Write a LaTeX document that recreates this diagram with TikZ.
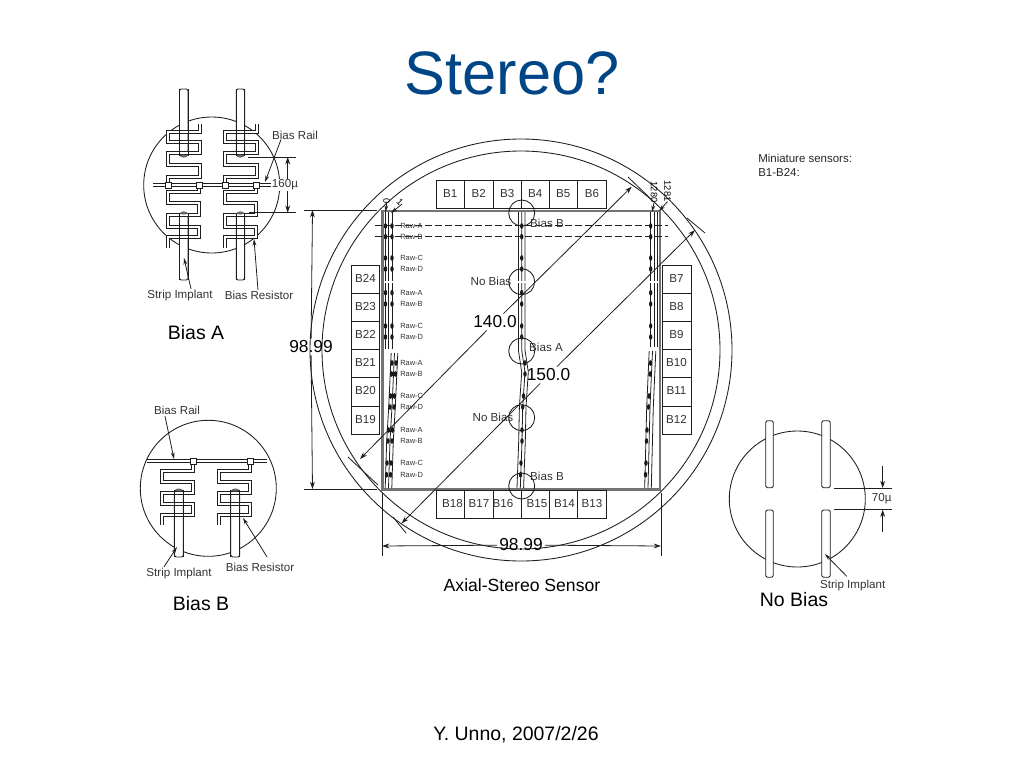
\documentclass[tikz,border=0pt]{standalone}
\usepackage{fontspec}
\setmainfont{Liberation Sans}
\usetikzlibrary{arrows.meta}
\definecolor{titleblue}{RGB}{0,69,134}
\definecolor{ink}{RGB}{30,30,30}
\tikzset{
  thin line/.style={draw=ink,line width=.6pt},
  resouter/.style={draw=ink,line width=3pt,line join=miter},
  resinner/.style={draw=white,line width=1.5pt,line join=miter},
  implant/.style={draw=ink,line width=.65pt,rounded corners=1.2pt},
  contact/.style={draw=ink,fill=white,line width=.65pt},
  tiny/.style={font=\fontsize{8.7pt}{10pt}\selectfont,text=black!80,inner sep=0pt},
  rowlab/.style={font=\fontsize{5.6pt}{6pt}\selectfont,text=black!80,inner sep=0pt,anchor=west},
  big/.style={font=\fontsize{14.6pt}{16pt}\selectfont,inner sep=0pt},
  dimnum/.style={font=\fontsize{13pt}{15pt}\selectfont,inner sep=1.5pt},
  dimarrow/.style={thin line,-{Stealth[length=5.5pt,width=3.6pt]}},
  leader/.style={thin line,-{Stealth[length=5pt,width=2.8pt]}},
  bcell/.style={draw=ink,line width=.7pt},
  bundle/.style={draw=ink,line width=.6pt},
  detail/.style={draw=ink,line width=.65pt},
}
\newcommand{\resline}[1]{\draw[resouter] #1; \draw[resinner] #1;}
\newcommand{\cellbox}[6]{% name x1 y1 x2 y2 label
  \draw[bcell] (#2,#3) rectangle (#4,#5);
  \node[font=\fontsize{8.7pt}{10pt}\selectfont,text=black!80,inner sep=0pt] (#1) at ({(#2+#4)/2},{(#3+#5)/2-1}) {#6};
}
\newcommand{\dotat}[2]{\fill[black!90] (#1,#2) ellipse (1.7 and 2.8);}
\begin{document}
\begin{tikzpicture}[x=0.75pt,y=-0.75pt]
\useasboundingbox (0,0) rectangle (1024,768);
\node[font=\fontsize{46pt}{50pt}\selectfont,text=titleblue,inner sep=0pt] (title) at (512,73) {Stereo?};
\node[font=\fontsize{14.6pt}{16pt}\selectfont,inner sep=0pt] (credit) at (516,735) {Y. Unno, 2007/2/26};
\node[font=\fontsize{8.6pt}{14pt}\selectfont,text=black!85,inner sep=0pt,anchor=north west,align=left] (mini) at (758,153.5) {Miniature sensors:\\[-3pt]B1-B24:};

%% ---------- Bias A
\draw[detail] (211.7,185) circle (68);
\foreach \sx in {0,56.7}{
 \begin{scope}[shift={(\sx,0)}]
  \foreach \a/\b in {89/156,213/280}
    \draw[implant,fill=white] (179.5,\a) rectangle (188,\b);
  \resline{(200,123.5) -- (200,131.7) -- (168.3,131.7) -- (168.3,141.7) -- (200,141.7) -- (200,153.3) -- (168.3,153.3) -- (168.3,165) -- (200,165) -- (200,176.7) -- (168.3,176.7) -- (168.3,185)}
  \resline{(199.3,185) -- (199.3,191.7) -- (168.3,191.7) -- (168.3,203.3) -- (199.3,203.3) -- (199.3,215) -- (168.3,215) -- (168.3,226.7) -- (199.3,226.7) -- (199.3,236.7) -- (168.3,236.7) -- (168.3,248)}
  \foreach \a/\b in {89/156,213/280}{
    \draw[implant] (179.5,\a) -- (179.5,\b);
    \draw[implant] (188,\a) -- (188,\b);}
  \fill[black!60] (183.7,156) ellipse (3.4 and 1.6);
  \fill[black!60] (183.7,213) ellipse (3.4 and 1.6);
 \end{scope}}
\resline{(153,185) -- (272,185)}
\foreach \p in {168,199,225,256}
  \draw[contact] (\p-3,182) rectangle (\p+3,188);
\node[tiny] (aRail) at (295,135) {Bias Rail};
\node[tiny,fill=white,inner sep=.5pt] (a160) at (285,185) {160µ};
\node[tiny] (aStrip) at (180,295.5) {Strip Implant};
\node[tiny] (aRes) at (259,295.5) {Bias Resistor};
\node[big] (aTitle) at (196,333) {Bias A};
\coordinate (aRailTip) at (265,182);
\coordinate (aStripTip) at (184,258);
\coordinate (aResTip) at (254,239);
\draw[leader] (aRail.south) ++(-14,0) -- (aRailTip);
\draw[leader] (aStrip.north) ++(11,-1) -- (aStripTip);
\draw[leader] (aRes.north) ++(-1,-1) -- (aResTip);
\coordinate (d1a) at (248,157); \coordinate (d1b) at (296,157);
\coordinate (d2a) at (249,212.7); \coordinate (d2b) at (296,212.7);
\coordinate (d1m) at (287.7,157); \coordinate (d2m) at (287.7,212.7);
\draw[thin line] (d1a) -- (d1b);
\draw[thin line] (d2a) -- (d2b);
\draw[dimarrow] (a160.north -| d1m) -- (d1m);
\draw[dimarrow] (a160.south -| d2m) -- (d2m);

%% ---------- Bias B
\draw[detail] (208.3,488.3) circle (68);
\foreach \sx in {0,56.5}{
 \begin{scope}[shift={(\sx,0)}]
  \draw[implant,fill=white] (174.3,490) rectangle (183.3,557);
  \resline{(193.3,461) -- (193.3,470.7) -- (162.3,470.7) -- (162.3,481.7) -- (193.3,481.7) -- (193.3,492.7) -- (162.3,492.7) -- (162.3,504) -- (193.3,504) -- (193.3,515) -- (162.3,515) -- (162.3,525)}
  \draw[implant] (174.3,490) -- (174.3,557);
  \draw[implant] (183.3,490) -- (183.3,557);
  \fill[black!60] (178.8,490) ellipse (3.4 and 1.5);
 \end{scope}}
\resline{(147,461) -- (267,461)}
\foreach \p in {193.3,250}
  \draw[contact] (\p-3,458) rectangle (\p+3,464);
\node[tiny] (bRail) at (177,410.7) {Bias Rail};
\node[tiny] (bStrip) at (179,573.5) {Strip Implant};
\node[tiny] (bRes) at (260,567.5) {Bias Resistor};
\node[big] (bTitle) at (201,604) {Bias B};
\coordinate (bRailTip) at (174,459);
\coordinate (bStripTip) at (177,547);
\coordinate (bResTip) at (243,518);
\draw[leader] (bRail.south) ++(-12,1) -- (bRailTip);
\draw[leader] (bStrip.north) ++(-15,-1) -- (bStripTip);
\draw[leader] (bRes.north) ++(7,-6) -- (bResTip);

%% ---------- No Bias
\draw[detail] (797.3,499) circle (68);
\foreach \xa/\xb in {765.7/773.3,821.7/830.3}
  \foreach \a/\b in {420.7/487.7,510/577.3}
    \draw[implant,fill=white] (\xa,\a) rectangle (\xb,\b);
\coordinate (n1a) at (834,488); \coordinate (n1b) at (891.7,488);
\coordinate (n2a) at (834,509.7); \coordinate (n2b) at (891.7,509.7);
\draw[thin line] (n1a) -- (n1b);
\draw[thin line] (n2a) -- (n2b);
\coordinate (n1s) at (882.7,466); \coordinate (n1m) at (882.7,488);
\coordinate (n2s) at (882.7,532); \coordinate (n2m) at (882.7,509.7);
\draw[dimarrow] (n1s) -- (n1m);
\draw[dimarrow] (n2s) -- (n2m);
\node[tiny] (n70) at (881.7,498.7) {70µ};
\node[tiny] (nStrip) at (852.7,585) {Strip Implant};
\coordinate (nStripTip) at (825,554);
\draw[leader] (nStrip.north) ++(-6,-3) -- (nStripTip);
\node[big] (nTitle) at (794,600) {No Bias};

%% ---------- Main sensor
\draw[detail] (521,350) circle (211);
\draw[detail] (521,350) circle (199);

% frame
\draw[draw=black!55,line width=1.7pt] (382.5,211) rectangle (660,489.5);

% cell boxes
\foreach \n/\a/\b/\l in {t1/436.3/464.3/B1,t2/464.3/493.3/B2,t3/493.3/521.3/B3,t4/521.3/549.3/B4,t5/549.3/577.3/B5,t6/577.3/606.5/B6}
  {\cellbox{\n}{\a}{180.7}{\b}{208.5}{\l}}
\foreach \n/\a/\b/\l in {l1/265.7/293.3/B24,l2/293.3/321/B23,l3/321/349.3/B22,l4/349.3/377.7/B21,l5/377.7/406/B20,l6/406/434.3/B19}
  {\cellbox{\n}{351.7}{\a}{379.3}{\b}{\l}}
\foreach \n/\a/\b/\l in {r1/265.7/293.3/B7,r2/293.3/321/B8,r3/321/349.3/B9,r4/349.3/377.7/B10,r5/377.7/406/B11,r6/406/434.3/B12}
  {\cellbox{\n}{662}{\a}{691}{\b}{\l}}
\foreach \n/\a/\b in {b1/436.3/464.3,b2/464.3/493.3,b3/493.3/521.3,b4/521.3/549.3,b5/549.3/577.3,b6/577.3/606.5}
  \draw[bcell] (\a,490.5) rectangle (\b,518.3);
\foreach \n/\x/\l in {bl1/452.5/B18,bl2/479/B17,bl3/503/B16,bl4/537/B15,bl5/564.5/B14,bl6/592/B13}
  \node[font=\fontsize{8.7pt}{10pt}\selectfont,text=black!80,inner sep=0pt] (\n) at (\x,503.5) {\l};

% row dashed lines
\draw[thin line,dash pattern=on 5pt off 2.5pt] (375,225.7) -- (668,225.7);
\draw[thin line,dash pattern=on 5pt off 2.5pt] (375,236.7) -- (668,236.7);

% strip bundles
\foreach \o in {-3.3,0,3.3}{
  \draw[bundle] (388.7+\o,212) -- (388.7+\o,349);
  \draw[bundle] (394.5+\o,353) -- (392+\o,407) -- (390+\o,441) -- (388.5+\o,488);
  \draw[bundle] (521.7+\o,212) -- (521.7+\o,350) -- (525+\o,372) -- (522.7+\o,407) -- (522+\o,441) -- (520.3+\o,488);
  \draw[bundle] (654+\o,212) -- (654+\o,347);
  \draw[bundle] (652.5+\o,351) -- (650+\o,407) -- (648+\o,488);
}
\foreach \y in {226,236.7,258,269,292.7,304,326,337}{
  \dotat{385.5}{\y}\dotat{392}{\y}
  \dotat{521.7}{\y}
  \dotat{650.7}{\y}
}
\foreach \y/\xl/\xc/\xr in {363/394/525/652,374/393.5/525/651.5,396/392.5/523.5/650.5,407/392/522.7/650,430/390.5/522/648.5,441/390/522/648,463/389/521/647.5,474.7/388.5/520.5/647}{
  \dotat{\xl-2}{\y}\dotat{\xl+2}{\y}
  \dotat{\xc}{\y}
  \dotat{\xr-1.5}{\y}
}
\fill[white] (384,280.5) rectangle (394,283);
\fill[white] (516,280.5) rectangle (527,283);
\fill[white] (649,280.5) rectangle (659,283);

% small detail circles
\foreach \n/\y in {c1/213,c2/281.7,c3/351,c4/417.7,c5/486}
  \draw[detail] (521.7,\y) circle (13);

% row labels
\foreach \y/\l in {226/A,236.7/B,258/C,269/D,292.7/A,304/B,326/C,337/D,363/A,374/B,396/C,407/D,430/A,441/B,463/C,474.7/D}
  \node[rowlab] at (400,\y) {Raw-\l};

\node[tiny,inner sep=0pt] (bb1) at (547,223) {Bias B};
\node[tiny] (nb1) at (491,281) {No Bias};
\node[tiny] (ba) at (546,347) {Bias A};
\node[tiny] (nb2) at (493,417) {No Bias};
\node[tiny] (bb2) at (547,476) {Bias B};

% corner numbers
\node[rotate=-90,font=\fontsize{7pt}{8pt}\selectfont,inner sep=0pt] (n0) at (386.7,201) {0};
\node[rotate=-45,font=\fontsize{7pt}{8pt}\selectfont,inner sep=0pt] (n1) at (400,202) {1};
\node[rotate=-90,font=\fontsize{7pt}{8pt}\selectfont,inner sep=0pt] (n1280) at (654,192) {1280};
\node[rotate=-90,font=\fontsize{7pt}{8pt}\selectfont,inner sep=0pt] (n1281) at (667.5,191) {1281};
\coordinate (c0) at (385.5,212); \coordinate (c1) at (391,213);
\coordinate (c1280) at (652,212); \coordinate (c1281) at (659,211);
\draw[leader] (n0.east) -- (c0);
\draw[leader] (n1.east) -- (c1);
\draw[leader] (n1280.east) -- (c1280);
\draw[leader] (n1281.east) -- (c1281);

% dimensions
\node[dimnum] (dimL) at (311,347) {98.99};
\node[dimnum] (dimB) at (521,545) {98.99};
\node[dimnum] (d140) at (495,322) {140.0};
\node[dimnum] (d150) at (548.5,375) {150.0};
\coordinate (eTL) at (304,210); \coordinate (eTR) at (377,210);
\coordinate (eBL) at (304,489); \coordinate (eBR) at (377,489);
\draw[thin line] (eTL) -- (eTR);
\draw[thin line] (eBL) -- (eBR);
\coordinate (vTL) at (382,493); \coordinate (vBL) at (382,556);
\coordinate (vTR) at (661,493); \coordinate (vBR) at (661,556);
\draw[thin line] (vTL) -- (vBL);
\draw[thin line] (vTR) -- (vBR);
\coordinate (aTop) at (312.5,210); \coordinate (aBot) at (312.5,489);
\draw[dimarrow] (dimL) -- (aTop);
\draw[dimarrow] (dimL) -- (aBot);
\coordinate (aLeft) at (382,546); \coordinate (aRight) at (661,546);
\draw[dimarrow] (dimB) -- (aLeft);
\draw[dimarrow] (dimB) -- (aRight);
\coordinate (t140a) at (360,459); \coordinate (t140b) at (631.7,186.7);
\coordinate (t150a) at (401.7,523.3); \coordinate (t150b) at (695,230);
\draw[dimarrow] (d140) -- (t140a);
\draw[dimarrow] (d140) -- (t140b);
\draw[dimarrow] (d150) -- (t150a);
\draw[dimarrow] (d150) -- (t150b);
\coordinate (k1a) at (348,457); \coordinate (k1b) at (378,485);
\coordinate (k2a) at (393,517); \coordinate (k2b) at (406,533);
\coordinate (k3a) at (628,177); \coordinate (k3b) at (652,200);
\coordinate (k4a) at (687,218); \coordinate (k4b) at (705,233);
\draw[thin line] (k1a) -- (k1b);
\draw[thin line] (k2a) -- (k2b);
\draw[thin line] (k3a) -- (k3b);
\draw[thin line] (k4a) -- (k4b);
\node[font=\fontsize{13.2pt}{15pt}\selectfont,inner sep=0pt] (axial) at (522,585) {Axial-Stereo Sensor};
\end{tikzpicture}
\end{document}
